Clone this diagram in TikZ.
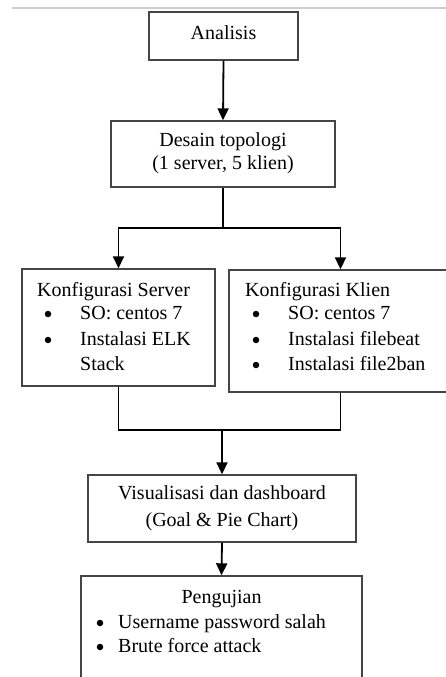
\documentclass[tikz,border=0pt]{standalone}
\usepackage{fontspec}
\setmainfont{Liberation Serif}
\usetikzlibrary{arrows.meta}
\definecolor{boxline}{HTML}{454545}
\definecolor{ruler}{HTML}{CFCFCF}
\tikzset{
  stagebox/.style={draw=boxline, line width=1.4pt, fill=white, inner sep=0pt},
  txt/.style={inner sep=0pt, text height=13pt, text depth=0pt,
              font=\fontsize{20}{24}\selectfont},
  dot/.style={circle, fill=black, inner sep=0pt, minimum size=6.5pt},
  flow/.style={draw=black, line width=1.8pt,
               -{Triangle[length=12pt, width=11pt]}},
  link/.style={draw=black, line width=1.8pt}
}
\begin{document}
\begin{tikzpicture}[x=1pt, y=-1pt]
  \useasboundingbox (0,0) rectangle (446,677);
  % ruler strip along the top edge
  \draw[ruler, line width=2pt] (12,8) -- (446,8);

  % stage boxes (centre, size)
  \node[stagebox, minimum width=149pt, minimum height=48pt] (ana) at (223.5,36) {};
  \node[stagebox, minimum width=224pt, minimum height=66pt] (des) at (223,154) {};
  \node[stagebox, minimum width=193pt, minimum height=117pt] (srv) at (118.5,327.5) {};
  \node[stagebox, minimum width=223pt, minimum height=122pt] (kli) at (340.5,331) {};
  \node[stagebox, minimum width=268pt, minimum height=67pt] (vis) at (222,508.5) {};
  \node[stagebox, minimum width=281pt, minimum height=114pt] (pen) at (221.5,633) {};

  % texts
  \node[txt] (anaT) at (223.5,33) {Analisis};
  \node[txt] (desT1) at (223,140) {Desain topologi};
  \node[txt] (desT2) at (223,163) {(1 server, 5 klien)};

  \node[txt, anchor=west] (srvT) at (37,290) {Konfigurasi Server};
  \node[dot] (srvB1) at (48,314) {};
  \node[txt, anchor=west] (srvI1) at (80,313) {SO: centos 7};
  \node[dot] (srvB2) at (48,340) {};
  \node[txt, anchor=west] (srvI2) at (80,339) {Instalasi ELK};
  \node[txt, anchor=west] (srvI3) at (80,364) {Stack};

  \node[txt, anchor=west] (kliT) at (245,290) {Konfigurasi Klien};
  \node[dot] (kliB1) at (256,314) {};
  \node[txt, anchor=west] (kliI1) at (288,313) {SO: centos 7};
  \node[dot] (kliB2) at (256,340) {};
  \node[txt, anchor=west] (kliI2) at (288,339) {Instalasi filebeat};
  \node[dot] (kliB3) at (256,365) {};
  \node[txt, anchor=west] (kliI3) at (288,364) {Instalasi file2ban};

  \node[txt] (visT1) at (222,493) {Visualisasi dan dashboard};
  \node[txt] (visT2) at (222,520) {(Goal \& Pie Chart)};

  \node[txt] (penT) at (221.5,597) {Pengujian};
  \node[dot] (penB1) at (100,623) {};
  \node[txt, anchor=west] (penI1) at (118,622) {Username password salah};
  \node[dot] (penB2) at (100,647) {};
  \node[txt, anchor=west] (penI2) at (118,646) {Brute force attack};

  % connectors
  \draw[flow] (ana.south) -- (des.north);
  \coordinate (split) at (223,228);
  \draw[link] (des.south) -- (split);
  \draw[flow] (split) -| (srv.north);
  \draw[flow] (split) -| (kli.north);
  \coordinate (join) at (222,430);
  \draw[link] (srv.south) |- (join) -| (kli.south);
  \draw[flow] (join) -- (vis.north);
  \draw[flow] (vis.south) -- (pen.north);
\end{tikzpicture}
\end{document}
